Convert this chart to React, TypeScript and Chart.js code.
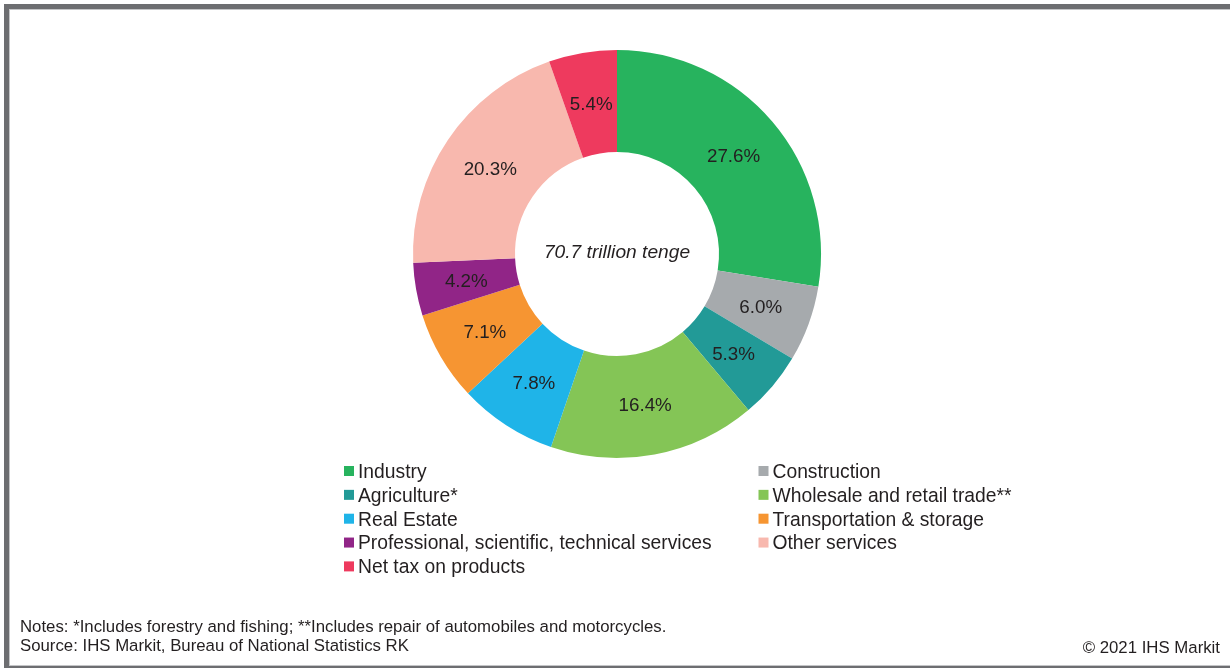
import React, { useEffect, useRef } from "react";
import { Chart, registerables } from "chart.js";

Chart.register(...registerables);

const categories = [
  "Industry",
  "Construction",
  "Agriculture*",
  "Wholesale and retail trade**",
  "Real Estate",
  "Transportation & storage",
  "Professional, scientific, technical services",
  "Other services",
  "Net tax on products",
];
const shares = [27.6, 6.0, 5.3, 16.4, 7.8, 7.1, 4.2, 20.3, 5.4];
const colors = [
  "#27b35e",
  "#a6aaad",
  "#229a97",
  "#84c556",
  "#1fb4e8",
  "#f69532",
  "#912587",
  "#f8b8ae",
  "#ee3a5e",
];
const centerLabel = "70.7 trillion tenge";
const noteLines = [
  "Notes: *Includes forestry and fishing; **Includes repair of automobiles and motorcycles.",
  "Source: IHS Markit, Bureau of National Statistics RK",
];
const copyright = "\u00a9 2021 IHS Markit";

const FONT = '"Liberation Sans", Arial, Helvetica, sans-serif';
const TEXT = "#231f20";

const decorPlugin = {
  id: "decor",
  afterDatasetsDraw(chart: any) {
    const ctx = chart.ctx as CanvasRenderingContext2D;
    const meta = chart.getDatasetMeta(0);
    const data = chart.data.datasets[0].data as number[];
    ctx.save();
    ctx.fillStyle = TEXT;
    // slice labels
    const ls = 18.8;
    ctx.font = `${ls}px ${FONT}`;
    ctx.textAlign = "center";
    ctx.textBaseline = "alphabetic";
    meta.data.forEach((arc: any, i: number) => {
      const p = arc.getProps(["x", "y", "startAngle", "endAngle", "innerRadius", "outerRadius"], true);
      const a = (p.startAngle + p.endAngle) / 2;
      const r = (p.innerRadius + p.outerRadius) / 2;
      const x = p.x + Math.cos(a) * r;
      const y = p.y + Math.sin(a) * r;
      ctx.fillText(data[i].toFixed(1) + "%", x, y + ls * 0.358);
    });
    // center label
    const first: any = meta.data[0];
    const cs = 19.2;
    ctx.font = `italic ${cs}px ${FONT}`;
    ctx.fillText(centerLabel, first.x, first.y - 3 + cs * 0.358);

    // legend
    const labels = chart.data.labels as string[];
    const bg = chart.data.datasets[0].backgroundColor as string[];
    const fs = 19.3;
    ctx.font = `${fs}px ${FONT}`;
    ctx.textAlign = "left";
    const colX = [344, 758.5];
    labels.forEach((lab, i) => {
      const col = i % 2;
      const row = Math.floor(i / 2);
      const cy = 471 + row * 23.85;
      const sx = colX[col];
      ctx.fillStyle = bg[i];
      ctx.fillRect(sx, cy - 5, 10, 10);
      ctx.fillStyle = TEXT;
      ctx.fillText(lab, sx + 14, cy + fs * 0.358);
    });

    // notes
    ctx.font = `16.8px ${FONT}`;
    ctx.fillText(noteLines[0], 20, 632);
    ctx.fillText(noteLines[1], 20, 651);
    ctx.textAlign = "right";
    ctx.fillText(copyright, 1220, 652.5);
    ctx.restore();
  },
};

export default function App() {
  const ref = useRef<HTMLCanvasElement | null>(null);
  useEffect(() => {
    if (!ref.current) return;
    const chart = new Chart(ref.current, {
      type: "doughnut",
      data: {
        labels: categories,
        datasets: [
          {
            data: shares,
            backgroundColor: colors,
            borderWidth: 0,
          },
        ],
      },
      options: {
        responsive: false,
        animation: false,
        devicePixelRatio: 1,
        cutout: "50%",
        layout: { padding: { top: 50, bottom: 210, left: 413, right: 409 } },
        plugins: {
          legend: { display: false },
          tooltip: { enabled: false },
        },
      } as any,
      plugins: [decorPlugin],
    });
    return () => chart.destroy();
  }, []);

  return (
    <div
      style={{
        position: "absolute",
        left: 0,
        top: 0,
        width: 1230,
        height: 668,
        overflow: "hidden",
        background: "#ffffff",
      }}
    >
      <div
        style={{
          position: "absolute",
          left: 4,
          top: 4,
          width: 1300,
          height: 667,
          boxSizing: "border-box",
          border: "5px solid #6d6e71",
          boxShadow: "inset 0 0 0 1px #c4c5c7",
        }}
      />
      <canvas
        ref={ref}
        width={1230}
        height={668}
        style={{ position: "absolute", left: 0, top: 0, width: 1230, height: 668 }}
      />
    </div>
  );
}
